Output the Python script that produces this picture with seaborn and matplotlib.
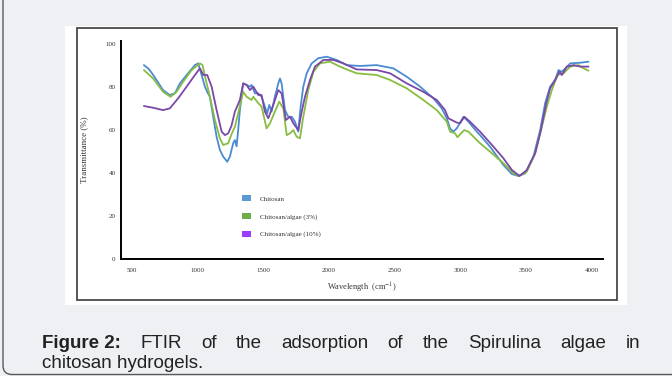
import pandas as pd
import seaborn as sns
import matplotlib.pyplot as plt
from matplotlib.patches import Patch, Rectangle, FancyBboxPatch

# values (wavenumber, transmittance %)
chitosan_x = [594, 630, 664, 740, 791, 830, 868, 919, 982, 1007, 1033, 1058, 1075, 1096,
              1121, 1147, 1172, 1197, 1228, 1248, 1273, 1286, 1299, 1311, 1324, 1349, 1375,
              1400, 1413, 1438, 1464, 1489, 1514, 1532, 1547, 1565, 1590, 1616, 1629, 1641,
              1667, 1692, 1718, 1743, 1768, 1786, 1806, 1832, 1870, 1920, 1984, 2060, 2136,
              2237, 2364, 2491, 2593, 2694, 2795, 2859, 2897, 2922, 2947, 2973, 3024, 3062,
              3125, 3150, 3226, 3328, 3392, 3442, 3493, 3556, 3607, 3645, 3683, 3721, 3747,
              3772, 3836, 3912, 3975]
chitosan_y = [90.2, 88.5, 85.7, 78.6, 76.3, 77.1, 81.7, 85.6, 90.2, 91.0, 85.6, 80.2, 77.8, 75.5,
              66.2, 56.9, 50.8, 47.7, 45.3, 47.7, 53.9, 55.4, 52.5, 60.0, 69.3, 81.7, 81.0,
              80.2, 81.0, 77.1, 77.1, 75.5, 70.9, 67.8, 71.7, 68.6, 75.5, 81.7, 84.0, 81.7,
              69.3, 66.2, 66.2, 63.9, 59.3, 70.9, 80.2, 86.4, 91.0, 93.4, 94.1, 92.6, 90.2,
              89.8, 90.2, 88.7, 84.8, 80.2, 74.8, 70.1, 65.5, 60.8, 59.3, 60.8, 66.2, 63.9,
              59.3, 57.7, 52.3, 43.8, 39.6, 38.7, 39.9, 47.7, 60.0, 72.5, 80.2, 83.3, 87.9,
              87.1, 91.0, 91.3, 91.8]

algae3_x = [594, 664, 740, 797, 842, 893, 957, 1020, 1040, 1065, 1096, 1134, 1172, 1197,
            1235, 1260, 1286, 1311, 1349, 1375, 1413, 1426, 1464, 1489, 1527, 1553, 1590,
            1623, 1654, 1680, 1705, 1730, 1756, 1781, 1806, 1844, 1883, 1933, 2009, 2085,
            2148, 2212, 2364, 2466, 2593, 2719, 2821, 2897, 2922, 2960, 2978, 3029, 3062,
            3125, 3150, 3226, 3328, 3404, 3442, 3506, 3569, 3620, 3658, 3696, 3739, 3785,
            3836, 3899, 3937, 3975]
algae3_y = [87.9, 84.0, 77.8, 75.5, 77.8, 82.5, 87.9, 91.0, 90.2, 83.3, 75.5, 64.7, 56.2, 53.1,
            53.9, 58.0, 61.6, 67.8, 77.8, 75.5, 74.0, 75.5, 72.5, 70.9, 60.8, 63.2, 68.6,
            73.2, 70.1, 57.7, 58.5, 60.0, 56.9, 56.2, 66.2, 78.6, 87.1, 91.0, 91.8, 89.5,
            87.9, 86.4, 85.6, 83.3, 79.4, 74.0, 69.3, 63.9, 59.3, 58.5, 56.7, 60.0, 59.3,
            55.4, 53.9, 50.0, 44.6, 40.0, 38.7, 40.7, 49.2, 61.6, 70.9, 78.6, 85.6, 86.4,
            89.5, 90.2, 88.7, 87.6]

algae10_x = [594, 664, 740, 791, 855, 919, 982, 1020, 1046, 1076, 1109, 1147, 1185, 1210,
             1235, 1260, 1286, 1324, 1349, 1375, 1400, 1426, 1464, 1489, 1514, 1540, 1578,
             1616, 1641, 1674, 1705, 1730, 1768, 1794, 1819, 1857, 1895, 1959, 2035, 2111,
             2212, 2364, 2466, 2593, 2719, 2821, 2884, 2909, 2935, 2973, 2998, 3031, 3074,
             3125, 3150, 3252, 3328, 3392, 3450, 3506, 3569, 3613, 3653, 3683, 3721, 3754,
             3772, 3810, 3861, 3912, 3975]
algae10_y = [71.2, 70.4, 69.3, 70.1, 74.8, 80.2, 85.6, 88.7, 85.6, 85.6, 80.2, 69.3, 59.3, 57.7,
             58.5, 62.0, 68.6, 74.0, 81.7, 81.0, 78.6, 80.2, 76.3, 76.3, 68.6, 65.5, 71.7,
             78.6, 77.1, 64.7, 66.2, 63.2, 60.0, 68.6, 75.5, 83.3, 89.5, 92.6, 92.6, 91.0,
             88.2, 87.9, 86.4, 81.7, 77.8, 74.0, 69.3, 65.5, 64.7, 63.5, 63.2, 66.2, 63.9,
             60.8, 59.3, 52.3, 46.9, 41.5, 38.7, 41.5, 49.2, 60.0, 72.5, 79.4, 83.3, 87.1,
             85.6, 89.5, 90.2, 89.5, 89.5]

labels = ['Chitosan', 'Chitosan/algae (3%)', 'Chitosan/algae (10%)']
line_colors = ['#4a8bd2', '#86bd42', '#7a48a8']
patch_colors = ['#5b9bd5', '#70ad47', '#9b3dff']
x_ticks = [500, 1000, 1500, 2000, 2500, 3000, 3500, 4000]
y_ticks = [0, 20, 40, 60, 80, 100]

df = pd.concat([
    pd.DataFrame({'wavenumber': chitosan_x, 'transmittance': chitosan_y, 'sample': labels[0]}),
    pd.DataFrame({'wavenumber': algae3_x, 'transmittance': algae3_y, 'sample': labels[1]}),
    pd.DataFrame({'wavenumber': algae10_x, 'transmittance': algae10_y, 'sample': labels[2]}),
])

sns.set_theme(style='white')
plt.rcParams['font.family'] = ['Liberation Serif', 'DejaVu Serif']
plt.rcParams['mathtext.fontset'] = 'stix'

W, H = 672, 376
fig = plt.figure(figsize=(W / 100, H / 100), dpi=100, facecolor='#eef0f3')

# page background, card and the framed figure image
bg = fig.add_axes([0, 0, 1, 1])
bg.set_xlim(0, W)
bg.set_ylim(H, 0)
bg.axis('off')
bg.add_patch(FancyBboxPatch((3, -30), 720, 404.5, boxstyle='round,pad=0,rounding_size=9',
                            fc='#eef0f3', ec='#5a5a5a', lw=1.0))
bg.add_patch(Rectangle((65, 26), 562, 279, fc='white', ec='none'))
bg.add_patch(Rectangle((77, 28), 540, 272, fc='none', ec='#4a4a4a', lw=1.3))

ax = fig.add_axes([121 / W, (H - 259.3) / H, (603 - 121) / W, (259.3 - 41) / H])
ax.patch.set_alpha(0)
sns.lineplot(data=df, x='wavenumber', y='transmittance', hue='sample', hue_order=labels,
             palette=line_colors, estimator=None, linewidth=1.3, legend=False, ax=ax)

ax.set_xlim(420, 4085)
ax.set_ylim(0, 101.4)
ax.set_xticks(x_ticks)
ax.set_yticks(y_ticks)
ax.tick_params(length=0, labelsize=5, colors='#333333')
ax.tick_params(axis='x', pad=6)
ax.tick_params(axis='y', pad=4)
for s in ['top', 'right']:
    ax.spines[s].set_visible(False)
for s in ['left', 'bottom']:
    ax.spines[s].set_color('black')
    ax.spines[s].set_linewidth(1.4)
ax.set_xlabel(r'Wavelength  (cm$^{-1}$)', fontsize=6, color='#333333', labelpad=6)
ax.set_ylabel('Transmittance (%)', fontsize=6.5, color='#333333', labelpad=12)

handles = [Patch(facecolor=c, edgecolor='none') for c in patch_colors]
ax.legend(handles, labels, loc='lower left', bbox_to_anchor=(0.25, 0.10), frameon=False,
          fontsize=5, handlelength=1.4, handleheight=1.0, labelspacing=1.6,
          borderpad=0, borderaxespad=0, handletextpad=1.2, labelcolor='#333333')

# caption, first line justified between the margins
cap_font = dict(family='Liberation Sans', fontsize=13.5, color='#222222', va='center')
words = [('Figure 2:', 'bold'), ('FTIR', 'normal'), ('of', 'normal'), ('the', 'normal'),
         ('adsorption', 'normal'), ('of', 'normal'), ('the', 'normal'), ('Spirulina', 'normal'),
         ('algae', 'normal'), ('in', 'normal')]
left, right = 42, 640
texts = [bg.text(0, 343, w, fontweight=fw, **cap_font) for w, fw in words]
renderer = fig.canvas.get_renderer()
widths = [t.get_window_extent(renderer).width for t in texts]
gap = (right - left - sum(widths)) / (len(texts) - 1)
xpos = left
for t, w in zip(texts, widths):
    t.set_x(xpos)
    xpos += w + gap
bg.text(left, 364, 'chitosan hydrogels.', **cap_font)

fig.savefig('out.png', dpi=100, facecolor=fig.get_facecolor())
